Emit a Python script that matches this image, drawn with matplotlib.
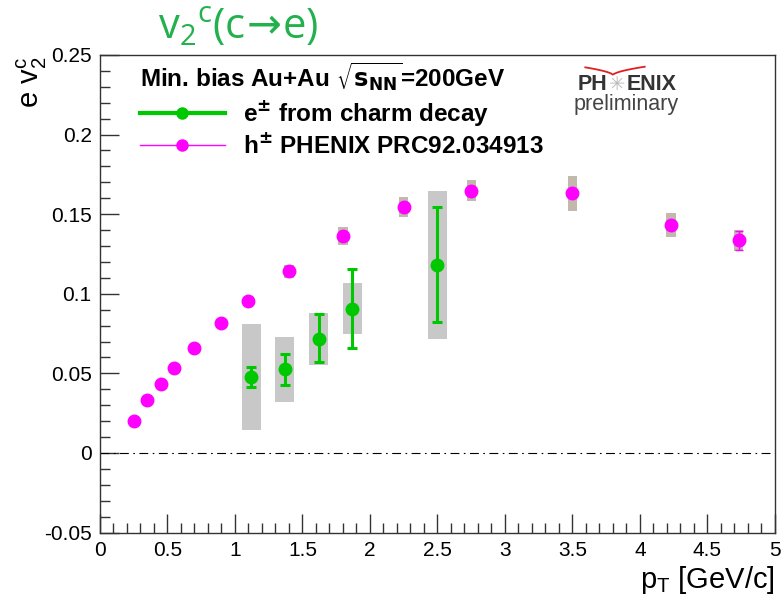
import matplotlib
matplotlib.use('Agg')
import matplotlib.pyplot as plt
import numpy as np
from matplotlib.patches import Rectangle
from matplotlib.lines import Line2D

# h+- from PHENIX PRC92.034913
h_pt = [0.25, 0.35, 0.45, 0.55, 0.70, 0.90, 1.10, 1.40, 1.80, 2.25, 2.75, 3.50, 4.23, 4.73]
h_v2 = [0.0198, 0.0330, 0.0433, 0.0531, 0.0660, 0.0818, 0.0957, 0.1140, 0.1365, 0.1543, 0.1648, 0.1630, 0.1432, 0.1335]
h_stat = [0, 0, 0, 0, 0, 0, 0, 0, 0, 0, 0, 0, 0, 0.006]
h_sys = [0, 0, 0, 0, 0, 0, 0, 0.0040, 0.0056, 0.0063, 0.0068, 0.0107, 0.0075, 0.0066]

# e+- from charm decay
e_pt = [1.12, 1.37, 1.62, 1.87, 2.50]
e_v2 = [0.0475, 0.0525, 0.0716, 0.0906, 0.118]
e_stat_up = [0.0065, 0.0098, 0.0155, 0.0250, 0.0365]
e_stat_dn = [0.0058, 0.0098, 0.0146, 0.0244, 0.0360]
e_sys_up = [0.0338, 0.0202, 0.0164, 0.0162, 0.0463]
e_sys_dn = [0.0334, 0.0203, 0.0164, 0.0156, 0.0462]

green = '#00c800'
magenta = '#ff00ff'
title_green = '#22b14c'

fig = plt.figure(figsize=(7.81, 5.99), dpi=100)
ax = fig.add_axes([0.128, 0.111, 0.8643, 0.7972])

# systematic boxes
for x, y, s in zip(h_pt, h_v2, h_sys):
    if s > 0:
        ax.add_patch(Rectangle((x - 0.035, y - s), 0.07, 2 * s, color='#c2b8ae', lw=0, zorder=1))
for x, y, su, sd in zip(e_pt, e_v2, e_sys_up, e_sys_dn):
    ax.add_patch(Rectangle((x - 0.07, y - sd), 0.14, su + sd, color='#c8c8c8', lw=0, zorder=1))

ax.axhline(0, color='black', lw=0.8, ls=(0, (8, 4, 1.5, 4)), zorder=2)

ax.errorbar(h_pt, h_v2, yerr=h_stat, fmt='o', color=magenta, ms=9, capsize=3,
            elinewidth=1, capthick=1, zorder=3)
ax.errorbar(e_pt, e_v2, yerr=[e_stat_dn, e_stat_up], fmt='o', color=green, ms=9,
            capsize=3.5, elinewidth=2.2, capthick=2.2, zorder=4)

ax.set_xlim(0, 5)
ax.set_ylim(-0.05, 0.25)
ax.set_xticks(np.arange(0, 5.01, 0.5))
ax.set_xticks(np.arange(0, 5.01, 0.1), minor=True)
ax.set_yticks(np.arange(-0.05, 0.251, 0.05))
ax.set_yticks(np.arange(-0.05, 0.251, 0.01), minor=True)
ax.set_xticklabels(['0', '0.5', '1', '1.5', '2', '2.5', '3', '3.5', '4', '4.5', '5'])
ax.set_yticklabels(['-0.05', '0', '0.05', '0.1', '0.15', '0.2', '0.25'])
ax.tick_params(which='major', direction='in', length=14, width=1, color='#333333',
               labelsize=15, pad=6)
ax.tick_params(which='minor', direction='in', length=7, width=1, color='#333333')
for lab in ax.get_xticklabels() + ax.get_yticklabels():
    lab.set_family('Liberation Sans')
for sp in ax.spines.values():
    sp.set_color('#333333')
    sp.set_linewidth(1)

# axis titles
fig.text(0.9923, 0.005, r'p$_\mathregular{T}$ [GeV/c]', ha='right', va='bottom',
         fontsize=21, family='Liberation Sans')
fig.text(0.041, 0.905, r'e v$_\mathregular{2}^\mathregular{c}$', rotation=90, ha='center',
         va='top', fontsize=21, family='Liberation Sans')

# title
fig.text(0.305, 0.955, r'v$_\mathregular{2}$$^\mathregular{c}$(c$\!\rightarrow\!$e)', ha='center',
         va='center', fontsize=30, color=title_green, family='Open Sans')

# legend
handles = [Line2D([], [], color=green, lw=3, marker='o', ms=9, mew=0),
           Line2D([], [], color=magenta, lw=1, marker='o', ms=9, mew=0)]
labels = [r'e$^{\mathbf{\pm}}$ from charm decay', r'h$^{\mathbf{\pm}}$ PHENIX PRC92.034913']
leg = ax.legend(handles, labels, loc='upper left', bbox_to_anchor=(0.055, 0.995),
                borderaxespad=0.0, borderpad=0.1,
                frameon=False, handlelength=3.5, handletextpad=0.75, labelspacing=0.2,
                prop={'family': 'Liberation Sans', 'weight': 'bold', 'size': 17.5},
                title=r'Min. bias Au+Au $\sqrt{\mathbf{s}_{\mathbf{NN}}}$=200GeV',
                title_fontproperties={'family': 'Liberation Sans', 'weight': 'bold', 'size': 17.5},
                alignment='left')
leg._legend_box.sep = 4

# PHENIX preliminary logo
ax.text(0.752, 0.939, 'PH', transform=ax.transAxes, ha='right', va='center',
        fontsize=15.5, weight='bold', color='#333333', family='Liberation Sans')
ax.text(0.766, 0.939, '✳', transform=ax.transAxes, ha='center', va='center',
        fontsize=14, color='#bbbbbb', family='DejaVu Sans')
ax.text(0.780, 0.939, 'ENIX', transform=ax.transAxes, ha='left', va='center',
        fontsize=15.5, weight='bold', color='#333333', family='Liberation Sans')
ax.text(0.779, 0.897, 'preliminary', transform=ax.transAxes, ha='center', va='center',
        fontsize=15.5, color='#444444', family='Liberation Sans')
arc_x = np.linspace(0.719, 0.807, 40)
arc_y = 0.958 + 0.017 * (np.abs(arc_x - 0.76) / 0.045) ** 0.6
ax.plot(arc_x, arc_y, color='#e02020', lw=1.3, transform=ax.transAxes, clip_on=False)

fig.savefig('out.png', dpi=100)
